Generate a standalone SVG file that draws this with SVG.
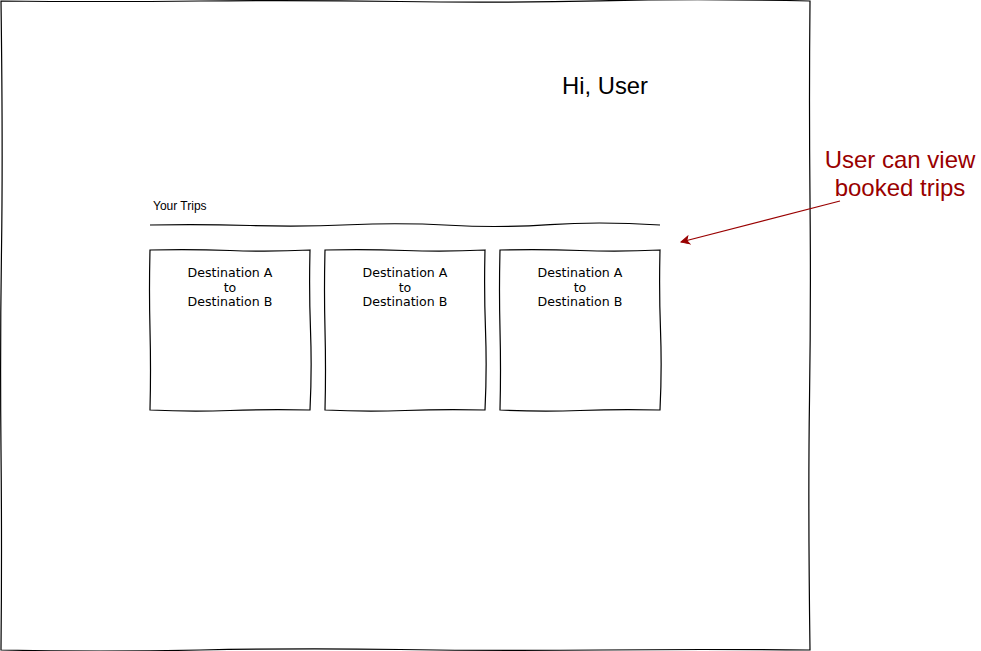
<svg xmlns="http://www.w3.org/2000/svg" width="981" height="651" viewBox="0 0 981 651">
<defs>
<style>
.sk{fill:#fff;stroke:#000;stroke-width:1.2}
.ln{fill:none;stroke:#000;stroke-width:1.1}
.dt{font-family:"DejaVu Sans",Verdana,sans-serif;font-size:12.6px;fill:#000;text-anchor:middle}
.note{font-family:"Liberation Sans",Arial,sans-serif;font-size:24px;fill:#990000;text-anchor:middle}
</style>
<marker id="ah" markerWidth="10" markerHeight="10" refX="9" refY="5" orient="auto" markerUnits="userSpaceOnUse">
<path d="M1,1 L9,5 L1,9 L3,5 Z" fill="#990000" stroke="#990000" stroke-width="1"/>
</marker>
</defs>
<rect width="981" height="651" fill="#fff"/>
<g id="frame">
<path class="sk" d="M1,1 Q100,2 200,1 T400,1.5 T600,0.8 T810,1 Q809,100 810,200 T809.5,400 T810,650 Q700,649 600,650 T400,649.5 T200,650 T1,650 Q2,550 1,450 T1.5,250 T1,1 Z"/>
</g>
<g id="greeting">
<text x="562" y="94" font-family="'Liberation Sans',Arial,sans-serif" font-size="23.8" fill="#000">Hi, User</text>
</g>
<g id="your-trips">
<text x="153" y="210" font-family="'Liberation Sans',Arial,sans-serif" font-size="12" fill="#000">Your Trips</text>
<path class="ln" d="M150,225 Q200,224 250,225.5 T350,224.8 T450,225.3 T550,224.6 T660,225"/>
</g>
<g id="trip1">
<path class="sk" d="M150,250 Q190,249 230,250.5 T310,250 Q309,290 310.5,330 T310,410 Q270,409 230,410.5 T150,410 Q151,370 150,330 T150,250 Z"/>
<text class="dt" x="230" y="277">Destination A</text>
<text class="dt" x="230" y="291.5">to</text>
<text class="dt" x="230" y="306">Destination B</text>
</g>
<g id="trip2">
<path class="sk" d="M325,250 Q365,249 405,250.5 T485,250 Q484,290 485.5,330 T485,410 Q445,409 405,410.5 T325,410 Q326,370 325,330 T325,250 Z"/>
<text class="dt" x="405" y="277">Destination A</text>
<text class="dt" x="405" y="291.5">to</text>
<text class="dt" x="405" y="306">Destination B</text>
</g>
<g id="trip3">
<path class="sk" d="M500,250 Q540,249 580,250.5 T660,250 Q659,290 660.5,330 T660,410 Q620,409 580,410.5 T500,410 Q501,370 500,330 T500,250 Z"/>
<text class="dt" x="580" y="277">Destination A</text>
<text class="dt" x="580" y="291.5">to</text>
<text class="dt" x="580" y="306">Destination B</text>
</g>
<g id="note">
<text class="note" x="900" y="168">User can view</text>
<text class="note" x="900" y="196">booked trips</text>
</g>
<g id="connectors">
<path d="M840,201 L681,242" fill="none" stroke="#990000" stroke-width="1.2" marker-end="url(#ah)"/>
</g>
</svg>
